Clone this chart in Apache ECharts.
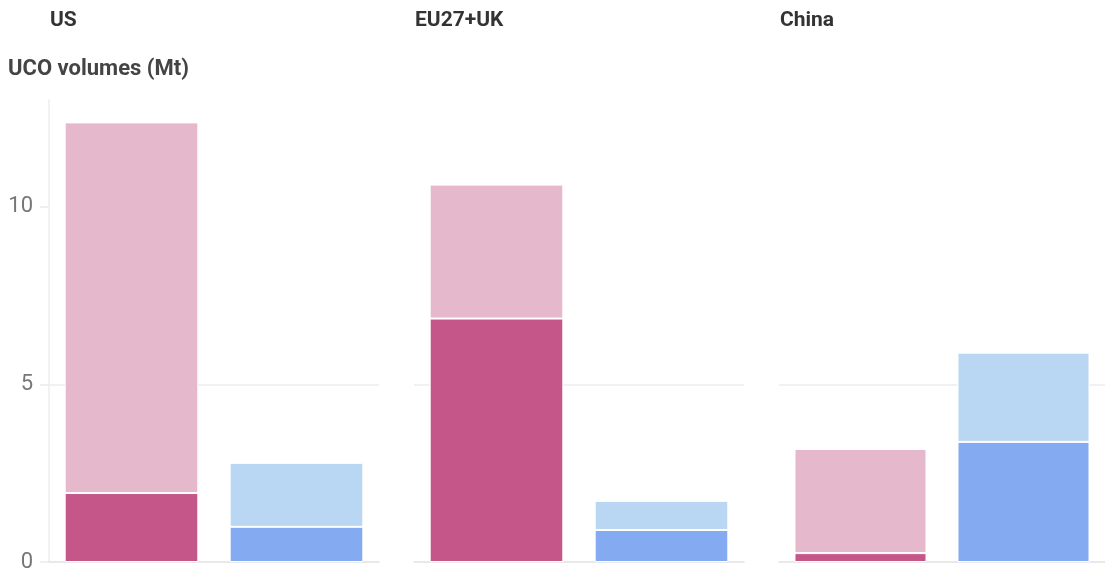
<!DOCTYPE html>
<html>
<head>
<meta charset="utf-8">
<script src="https://cdn.jsdelivr.net/npm/echarts@6/dist/echarts.min.js"></script>
<style>
  html, body { margin: 0; padding: 0; background: #fff; }
  #chart { width: 1105px; height: 573px; }
</style>
</head>
<body>
<div id="chart"></div>
<script>
var regions = ['US', 'EU27+UK', 'China'];
var categories = ['Supply', 'Demand'];
// lower (dark) and upper (light) part of each stacked bar, Mt
var baseValues = [[1.94, 0.99], [6.85, 0.9], [0.25, 3.38]];
var topValues = [[10.43, 1.8], [3.77, 0.82], [2.93, 2.51]];
var yTicks = [0, 5, 10];

var darkColors = ['#c5568a', '#84aaf2'];
var lightColors = ['#e6b8cc', '#b9d6f3'];
var gridLefts = [49, 414, 779];

var myChart = echarts.init(document.getElementById('chart'));

var titles = [{
    text: 'UCO volumes (Mt)',
    left: 8,
    top: 58,
    padding: 0,
    textStyle: { fontFamily: 'Roboto', fontSize: 22, fontWeight: 'bold', color: '#444' }
}];
var grids = [], xAxes = [], yAxes = [], series = [];

regions.forEach(function (name, i) {
    titles.push({
        text: name,
        left: gridLefts[i] + 1,
        top: 10,
        padding: 0,
        textStyle: { fontFamily: 'Roboto', fontSize: 21, fontWeight: 'bold', color: '#333' }
    });
    grids.push({ left: gridLefts[i], width: 330, top: 100, bottom: 11 });
    xAxes.push({
        type: 'category',
        gridIndex: i,
        data: categories,
        axisLine: { lineStyle: { color: '#e2e2e2', width: 1.5 } },
        axisTick: { alignWithLabel: true, length: 8, lineStyle: { color: '#e2e2e2', width: 1.5 } },
        axisLabel: { show: false }
    });
    yAxes.push({
        type: 'value',
        gridIndex: i,
        min: 0,
        max: 13,
        interval: 5,
        axisLine: { show: i === 0, lineStyle: { color: '#ececec', width: 1.5 } },
        axisTick: { show: i === 0, length: 9, customValues: yTicks, lineStyle: { color: '#ececec', width: 1.5 } },
        axisLabel: {
            show: i === 0,
            customValues: yTicks,
            margin: 16,
            fontFamily: 'Roboto',
            fontSize: 22,
            color: '#777'
        },
        splitLine: { showMaxLine: false, showMinLine: false, lineStyle: { color: '#ececec', width: 1.5 } }
    });
    series.push({
        name: 'base',
        type: 'bar',
        xAxisIndex: i,
        yAxisIndex: i,
        stack: 'r' + i,
        barCategoryGap: '19%',
        data: baseValues[i].map(function (v, j) {
            return { value: v, itemStyle: { color: darkColors[j] } };
        }),
        itemStyle: { borderColor: '#fff', borderWidth: 1 }
    });
    series.push({
        name: 'top',
        type: 'bar',
        xAxisIndex: i,
        yAxisIndex: i,
        stack: 'r' + i,
        barCategoryGap: '19%',
        data: topValues[i].map(function (v, j) {
            return { value: v, itemStyle: { color: lightColors[j] } };
        }),
        itemStyle: { borderColor: '#fff', borderWidth: 1 }
    });
});

myChart.setOption({
    animation: false,
    title: titles,
    grid: grids,
    xAxis: xAxes,
    yAxis: yAxes,
    series: series
});
</script>
</body>
</html>
